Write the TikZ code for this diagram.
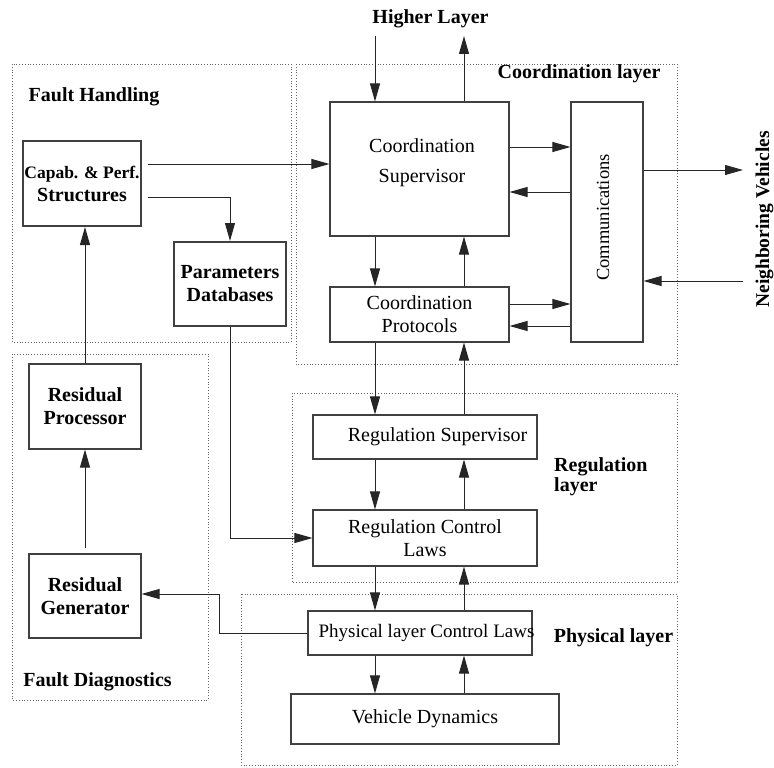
\documentclass[tikz,border=0pt]{standalone}
\usepackage{fontspec}
\setmainfont{Liberation Serif}
\usetikzlibrary{arrows.meta,calc}
\begin{document}
\begin{tikzpicture}[x=1pt,y=-1pt,
  box/.style={draw=black!75,line width=1.1pt,inner sep=0pt,align=center,font=\fontsize{20}{23}\selectfont},
  thickbox/.style={box,line width=2pt,font=\fontsize{20}{23}\selectfont\bfseries},
  txt/.style={inner sep=0pt,align=center,font=\fontsize{20}{23}\selectfont},
  region/.style={draw=black!60,dotted,line width=0.8pt},
  lbl/.style={font=\fontsize{20}{20}\selectfont\bfseries,inner sep=0pt,align=left},
  arr/.style={draw=black!85,line width=1pt,-{Triangle[length=18pt,width=10pt]}},
  ln/.style={draw=black!85,line width=1pt}]
\useasboundingbox (0,0) rectangle (774,768);

% dotted regions
\draw[region] (12,64) rectangle (291,342);
\draw[region] (296,64) rectangle (677,364);
\draw[region] (12,354) rectangle (208,700);
\draw[region] (292,393) rectangle (677,582);
\draw[region] (241,594) rectangle (677,765);

% region labels
\node[lbl] (hl) at (430.5,19) {Higher Layer};
\node[lbl] (coordlbl) at (579,74) {Coordination layer};
\node[lbl] (fhlbl) at (94,97) {Fault Handling};
\node[lbl] (fdlbl) at (97.5,682) {Fault Diagnostics};
\node[lbl,anchor=west] (reglbl) at (554,477) {Regulation\\layer};
\node[lbl] (physlbl) at (613.5,638) {Physical layer};
\node[lbl,rotate=90,font=\fontsize{19.5}{20}\selectfont\bfseries] (nv) at (764.5,219.5) {Neighboring Vehicles};

% boxes
\node[thickbox,minimum width=118pt,minimum height=85pt] (capab) at (82,183.5)
  {{\fontsize{17.5}{19}\selectfont Capab. \& Perf.}\\Structures};
\node[thickbox,minimum width=112pt,minimum height=84pt] (params) at (230,284)
  {Parameters\\Databases};
\node[box,minimum width=179pt,minimum height=134pt] (coordsup) at (419.5,169) {};
\node[txt,font=\fontsize{20}{30}\selectfont] (coordsuptxt) at (422,163) {Coordination\\Supervisor};
\node[box,minimum width=179pt,minimum height=55pt] (coordprot) at (419.5,314.5)
  {Coordination\\Protocols};
\node[box,minimum width=72pt,minimum height=240pt] (comm) at (607,222) {};
\node[txt,rotate=90,font=\fontsize{18.5}{20}\selectfont] (commtxt) at (603,217.5) {Communications};
\node[box,minimum width=224pt,minimum height=44pt] (regsup) at (425,437) {};
\node[txt] (regsuptxt) at (437.5,437) {Regulation Supervisor};
\node[box,minimum width=224pt,minimum height=56pt] (regctl) at (425,538)
  {Regulation Control\\Laws};
\node[box,minimum width=224pt,minimum height=44pt] (physctl) at (420,633) {};
\node[txt,font=\fontsize{19}{23}\selectfont] (physctltxt) at (426.5,633) {Physical layer Control Laws};
\node[box,minimum width=268pt,minimum height=50pt] (vehdyn) at (425,719) {Vehicle Dynamics};
\node[thickbox,line width=1.1pt,minimum width=112pt,minimum height=85pt] (resproc) at (85,406.5)
  {Residual\\Processor};
\node[thickbox,line width=1.1pt,minimum width=112pt,minimum height=84pt] (resgen) at (85,596)
  {Residual\\Generator};

% helper coordinates
\coordinate (L) at (375,0);
\coordinate (R) at (464,0);
\coordinate (hlin) at (375,36);
\coordinate (hlout) at (464,36);
\coordinate (c1) at ([xshift=6pt,yshift=19.5pt]capab.east);
\coordinate (c2) at ([xshift=6pt,yshift=-13.5pt]capab.east);
\coordinate (s1) at ([yshift=22pt]coordsup.east);
\coordinate (s2) at ([yshift=-23pt]coordsup.east);
\coordinate (p1) at ([yshift=10.5pt]coordprot.east);
\coordinate (p2) at ([yshift=-11.5pt]coordprot.east);
\coordinate (n1) at ([yshift=52pt]comm.east);
\coordinate (n2) at (743,281);
\coordinate (bend) at (219,594);

% higher layer
\draw[arr] (hlin) -- (hlin |- coordsup.north);
\draw[arr] (hlout |- coordsup.north) -- (hlout);

% fault handling connections
\draw[arr] (c1) -- (c1 -| coordsup.west);
\draw[arr] (c2) -| (params.north);
\draw[arr] (params.south) |- (regctl.west);
\draw[arr] (resproc.north) -- (resproc.north |- capab.south);
\draw[arr] ([yshift=5pt]resgen.north) -- (resproc.south);
\draw[arr] (physctl.west) -| (bend) -- (bend -| resgen.east);

% communications
\draw[arr] (s1) -- (s1 -| comm.west);
\draw[arr] (s2 -| comm.west) -- (s2);
\draw[arr] (p1) -- (p1 -| comm.west);
\draw[arr] (p2 -| comm.west) -- (p2);
\draw[arr] (n1) -- (n1 -| n2);
\draw[arr] (n2) -- (n2 -| comm.east);

% vertical chain
\draw[arr] (L |- coordsup.south) -- (L |- coordprot.north);
\draw[arr] (R |- coordprot.north) -- (R |- coordsup.south);
\draw[arr] (L |- coordprot.south) -- (L |- regsup.north);
\draw[arr] (R |- regsup.north) -- (R |- coordprot.south);
\draw[arr] (L |- regsup.south) -- (L |- regctl.north);
\draw[arr] (R |- regctl.north) -- (R |- regsup.south);
\draw[arr] (L |- regctl.south) -- (L |- physctl.north);
\draw[arr] (R |- physctl.north) -- (R |- regctl.south);
\draw[arr] (L |- physctl.south) -- (L |- vehdyn.north);
\draw[arr] (R |- vehdyn.north) -- (R |- physctl.south);
\end{tikzpicture}
\end{document}
